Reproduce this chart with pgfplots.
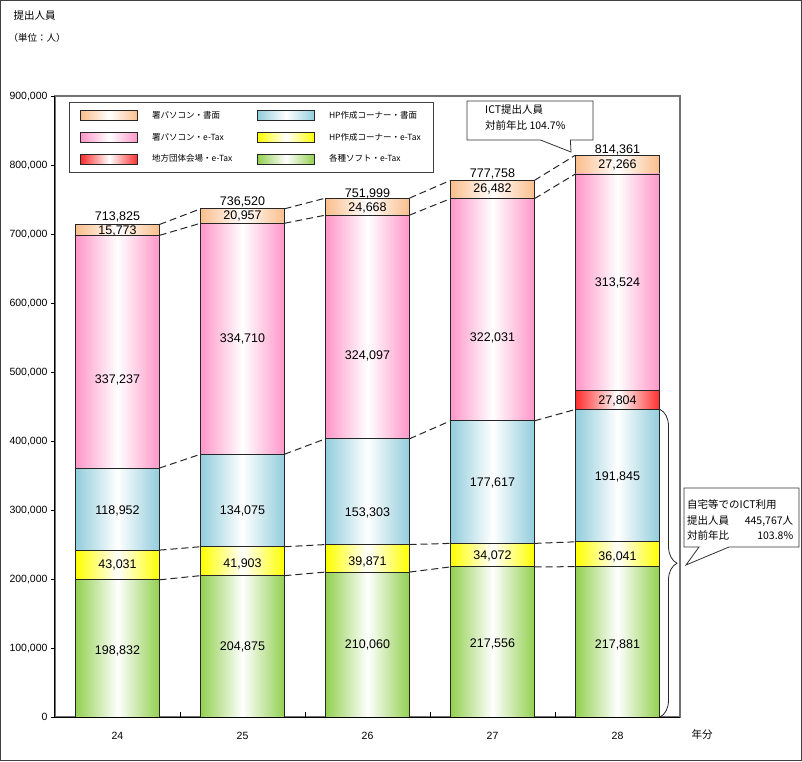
\documentclass[border=0pt]{standalone}
\usepackage{pgfplots}
\pgfplotsset{compat=1.18}
\usepackage{pgfplotstable}
\usepackage{fontspec}
\setmainfont{Liberation Sans}
\newfontfamily\cjk{Noto Sans CJK JP}
\usetikzlibrary{decorations.pathreplacing,shapes.callouts}

\definecolor{cpeach}{RGB}{250,190,140}
\definecolor{cpink}{RGB}{255,150,200}
\definecolor{cred}{RGB}{255,45,45}
\definecolor{cblue}{RGB}{146,205,220}
\definecolor{cyellow}{RGB}{255,255,0}
\definecolor{cgreen}{RGB}{146,208,80}

\pgfplotsset{
  gradbox/.style={legend image code/.code={\draw[##1] (0pt,-5pt) rectangle (57pt,5pt);}},
  seg/.style={draw=black!85, line width=0.8pt, left color=#1, right color=#1, middle color=white},
  geom/.style={at={(55pt,44pt)}, anchor=south west,
    width=625pt, height=621pt, scale only axis,
    xmin=-0.5, xmax=4.5, ymin=0, ymax=900000},
  yearax/.style={geom, hide axis, ybar stacked, bar width=84pt},
}

% one stacked bar per axis, so that each bar gets its own shading
% #1 year index, #2 各種ソフト, #3 HP e-Tax, #4 HP 書面, #5 署PC e-Tax, #6 署PC 書面
\newcommand{\yearbars}[6]{%
\begin{axis}[yearax]
\addplot[seg=cgreen] coordinates {(#1,#2)};
\addplot[seg=cyellow] coordinates {(#1,#3)};
\addplot[seg=cblue] coordinates {(#1,#4)};
\addplot[seg=cpink] coordinates {(#1,#5)};
\addplot[seg=cpeach] coordinates {(#1,#6)};
\end{axis}}

% label positions (x, y in data units, text)
\pgfplotstableread{
x y label
0 95652 198,832
0 220290 43,031
0 298551 118,952
0 488406 337,237
0 704348 15,773
0 724638 713,825
1 101449 204,875
1 221739 41,903
1 298551 134,075
1 547826 334,710
1 726087 20,957
1 746377 736,520
2 104348 210,060
2 224638 39,871
2 295652 153,303
2 523188 324,097
2 737681 24,668
2 757971 751,999
3 105797 217,556
3 233333 34,072
3 339130 177,617
3 549275 322,031
3 765217 26,482
3 786957 777,758
4 104348 217,881
4 231884 36,041
4 347826 191,845
4 457971 27,804
4 628986 313,524
4 800000 27,266
4 821739 814,361
}\labeltable

\begin{document}
\begin{tikzpicture}
\useasboundingbox (0pt,0pt) rectangle (802pt,761pt);
\draw[line width=1pt, black!75] (0.5pt,0.5pt) rectangle (801.5pt,760.5pt);
\node[anchor=west, font=\cjk\fontsize{10.5}{12}\selectfont] at (10pt,745pt) {提出人員};
\node[anchor=west, font=\cjk\fontsize{9.5}{12}\selectfont] at (5pt,723pt) {（単位：人）};
\node[font=\cjk\fontsize{10.5}{12}\selectfont] at (702pt,26pt) {年分};

% frame and legend
\begin{axis}[
  geom,
  ticks=none,
  axis line style={draw=black!55, line width=1.3pt},
  legend columns=2,
  legend style={at={(rel axis cs:0,1)}, anchor=north west, xshift=14pt, yshift=-6pt,
     draw=black!75, line width=0.8pt, inner xsep=11pt, inner ysep=7pt,
     font=\cjk\fontsize{8.5}{10}\selectfont, row sep=9pt,
     /tikz/every odd column/.style={column sep=12pt},
     /tikz/every even column/.style={column sep=3pt},
     cells={anchor=west}},
]
\addlegendimage{gradbox, seg=cpeach}
\addlegendentry{\makebox[100pt][l]{署パソコン・書面}}
\addlegendimage{gradbox, seg=cblue}
\addlegendentry{HP作成コーナー・書面}
\addlegendimage{gradbox, seg=cpink}
\addlegendentry{\makebox[100pt][l]{署パソコン・e-Tax}}
\addlegendimage{gradbox, seg=cyellow}
\addlegendentry{HP作成コーナー・e-Tax}
\addlegendimage{gradbox, seg=cred}
\addlegendentry{\makebox[100pt][l]{地方団体会場・e-Tax}}
\addlegendimage{gradbox, seg=cgreen}
\addlegendentry{各種ソフト・e-Tax}
\end{axis}

\yearbars{0}{198832}{43031}{118952}{337237}{15773}
\yearbars{1}{204875}{41903}{134075}{334710}{20957}
\yearbars{2}{210060}{39871}{153303}{324097}{24668}
\yearbars{3}{217556}{34072}{177617}{322031}{26482}

\begin{axis}[yearax]
\addplot[seg=cgreen] coordinates {(4,217881)};
\addplot[seg=cyellow] coordinates {(4,36041)};
\addplot[seg=cblue] coordinates {(4,191845)};
\addplot[seg=cred] coordinates {(4,27804)};
\addplot[seg=cpink] coordinates {(4,313524)};
\addplot[seg=cpeach] coordinates {(4,27266)};
\end{axis}

\begin{axis}[
  geom,
  axis x line=bottom, axis y line=left,
  axis line style={-, black, line width=1pt},
  xtick={0,1,2,3,4}, xticklabels={24,25,26,27,28},
  xtick style={draw=none},
  ytick={0,100000,200000,300000,400000,500000,600000,700000,800000,900000},
  ytick style={black, line width=0.8pt},
  tick align=outside, major tick length=4pt,
  scaled y ticks=false,
  yticklabel style={/pgf/number format/fixed, /pgf/number format/1000 sep={,}},
  /pgf/number format/assume math mode=true,
  tick label style={font=\fontsize{10.5}{12}\selectfont},
  xticklabel style={yshift=-8pt},
  clip=false,
  unbounded coords=jump,
]
\pgfplotsset{conn/.style={black!85, line width=1pt, dash pattern=on 7pt off 4pt, mark=none}}
\addplot[conn] coordinates {(0.336,198832) (0.664,204875) (1,nan) (1.336,204875) (1.664,210060) (2,nan) (2.336,210060) (2.664,217556) (3,nan) (3.336,217556) (3.664,217881)};
\addplot[conn] coordinates {(0.336,241863) (0.664,246778) (1,nan) (1.336,246778) (1.664,249931) (2,nan) (2.336,249931) (2.664,251628) (3,nan) (3.336,251628) (3.664,253922)};
\addplot[conn] coordinates {(0.336,360815) (0.664,380853) (1,nan) (1.336,380853) (1.664,403234) (2,nan) (2.336,403234) (2.664,429245) (3,nan) (3.336,429245) (3.664,445767)};
\addplot[conn] coordinates {(0.336,698052) (0.664,715563) (1,nan) (1.336,715563) (1.664,727331) (2,nan) (2.336,727331) (2.664,751276) (3,nan) (3.336,751276) (3.664,787095)};
\addplot[conn] coordinates {(0.336,713825) (0.664,736520) (1,nan) (1.336,736520) (1.664,751999) (2,nan) (2.336,751999) (2.664,777758) (3,nan) (3.336,777758) (3.664,814361)};

\addplot[draw=none, mark=none, nodes near coords, point meta=explicit symbolic,
  nodes near coords align={center},
  every node near coord/.append style={font=\fontsize{12.5}{14}\selectfont, text=black, anchor=center, inner sep=0pt}]
  table[x=x, y=y, meta=label] {\labeltable};

\draw[black, line width=0.8pt] (axis cs:0.5,0) -- ++(0pt,5pt);
\draw[black, line width=0.8pt] (axis cs:1.5,0) -- ++(0pt,5pt);
\draw[black, line width=0.8pt] (axis cs:2.5,0) -- ++(0pt,5pt);
\draw[black, line width=0.8pt] (axis cs:3.5,0) -- ++(0pt,5pt);

\draw[black!85, line width=0.8pt, decorate, decoration={brace, amplitude=17pt}]
  (axis cs:4.34,445767) -- (axis cs:4.34,0);
\end{axis}

\node[rectangle callout, draw=black!80, line width=0.8pt, fill=white,
  minimum width=126pt, minimum height=39pt, callout pointer width=30pt,
  callout absolute pointer={(571pt,609pt)}] at (530pt,640.5pt) {};
\node[anchor=west, align=left, inner sep=0pt, font=\cjk\fontsize{10.5}{16}\selectfont]
  at (485pt,643pt) {ICT提出人員\\対前年比 104.7\%};

\node[rectangle callout, draw=black!80, line width=0.8pt, fill=white,
  minimum width=115pt, minimum height=59pt, callout pointer width=30pt,
  callout absolute pointer={(686pt,196pt)}] at (741.5pt,243.5pt) {};
\node[anchor=west, align=left, text width=106pt, inner sep=0pt, font=\cjk\fontsize{10.5}{15.3}\selectfont]
  at (687pt,241pt) {自宅等でのICT利用\\提出人員\hfill 445,767人\\対前年比\hfill 103.8\%};
\end{tikzpicture}
\end{document}
